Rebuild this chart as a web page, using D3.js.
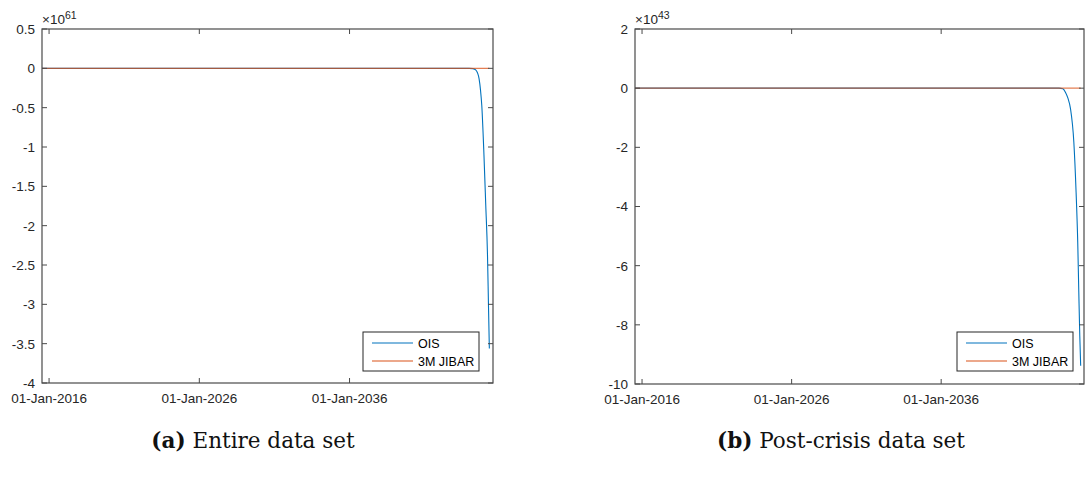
<!DOCTYPE html>
<html>
<head>
<meta charset="utf-8">
<script src="https://cdn.jsdelivr.net/npm/d3@7"></script>
<style>
  html, body { margin: 0; padding: 0; background: #fff; }
  svg { display: block; }
  .tick-label { font-family: "Liberation Sans", Arial, sans-serif; font-size: 13.5px; fill: #262626; }
  .legend-text { font-family: "Liberation Sans", Arial, sans-serif; font-size: 12.5px; fill: #000; }
  .caption { font-family: "DejaVu Serif", "Liberation Serif", serif; font-size: 21.5px; fill: #111; }
</style>
</head>
<body>
<svg id="chart" width="1086" height="479"></svg>
<script>
// Shared x-axis ticks (date axis)
const xTickDates = ["2016-01-01", "2026-01-01", "2036-01-01"];
const xTickLabels = ["01-Jan-2016", "01-Jan-2026", "01-Jan-2036"];
const xDomain = ["2015-07-13", "2045-07-20"];
const seriesNames = ["OIS", "3M JIBAR"];

// Panel (a): entire data set, values in units of 1e61
const datesA = ["2015-07-13", "2043-12-15", "2044-03-20", "2044-05-25", "2044-07-10", "2044-08-15",
                "2044-09-20", "2044-10-20", "2044-12-12", "2045-01-25", "2045-03-08", "2045-04-01", "2045-04-22"];
const oisA   = [0, 0, -0.004, -0.02, -0.06, -0.13, -0.28, -0.47, -1.10, -1.74, -2.37, -3.01, -3.56];
const jibarA = [0, 0, 0, 0, 0, 0, 0, 0, 0, 0, 0, 0, 0];
const yTicksA = [0.5, 0, -0.5, -1, -1.5, -2, -2.5, -3, -3.5, -4];
const yDomainA = [-4, 0.5];
const exponentA = "61";
const captionA = ["(a)", " Entire data set"];

// Panel (b): post-crisis data set, values in units of 1e43
const datesB = ["2015-07-13", "2043-11-15", "2044-02-20", "2044-04-22", "2044-06-20", "2044-08-25",
                "2044-11-14", "2045-01-08", "2045-02-17", "2045-03-15", "2045-04-08", "2045-04-30"];
const oisB   = [0, 0, -0.02, -0.135, -0.33, -0.70, -1.83, -3.52, -5.21, -6.90, -8.37, -9.38];
const jibarB = [0, 0, 0, 0, 0, 0, 0, 0, 0, 0, 0, 0];
const yTicksB = [2, 0, -2, -4, -6, -8, -10];
const yDomainB = [-10, 2];
const exponentB = "43";
const captionB = ["(b)", " Post-crisis data set"];

const colors = ["#0072BD", "#D95319"];
const parse = d3.timeParse("%Y-%m-%d");
const svg = d3.select("#chart");

function drawPanel(opts) {
  const { left, right, top, bottom, dates, ois, jibar, yTicks, yDomain, exponent, caption, captionX, legend } = opts;
  const g = svg.append("g");
  const x = d3.scaleTime().domain(xDomain.map(parse)).range([left, right]);
  const y = d3.scaleLinear().domain(yDomain).range([bottom, top]);
  const tickLen = 5;
  const axisColor = "#4a4a4a";

  // series lines
  const series = [ois, jibar];
  series.forEach((vals, i) => {
    const pts = dates.map((d, k) => [parse(d), vals[k]]);
    g.append("path")
      .datum(pts)
      .attr("fill", "none")
      .attr("stroke", colors[i])
      .attr("stroke-width", 1.1)
      .attr("stroke-opacity", i === 1 ? 0.75 : 1)
      .attr("d", d3.line().x(d => x(d[0])).y(d => y(d[1])).curve(d3.curveMonotoneX));
  });

  // box
  g.append("rect")
    .attr("x", left).attr("y", top)
    .attr("width", right - left).attr("height", bottom - top)
    .attr("fill", "none").attr("stroke", axisColor).attr("stroke-width", 1.2);

  // x ticks (bottom and top, pointing inward)
  const xt = xTickDates.map(parse);
  xt.forEach((d, i) => {
    const px = x(d);
    g.append("line").attr("x1", px).attr("x2", px).attr("y1", bottom).attr("y2", bottom - tickLen)
      .attr("stroke", axisColor).attr("stroke-width", 1);
    g.append("line").attr("x1", px).attr("x2", px).attr("y1", top).attr("y2", top + tickLen)
      .attr("stroke", axisColor).attr("stroke-width", 1);
    g.append("text").attr("class", "tick-label")
      .attr("x", px).attr("y", bottom + 20)
      .attr("text-anchor", "middle")
      .text(xTickLabels[i]);
  });

  // y ticks (left and right, pointing inward)
  yTicks.forEach(v => {
    const py = y(v);
    g.append("line").attr("x1", left).attr("x2", left + tickLen).attr("y1", py).attr("y2", py)
      .attr("stroke", axisColor).attr("stroke-width", 1);
    g.append("line").attr("x1", right).attr("x2", right - tickLen).attr("y1", py).attr("y2", py)
      .attr("stroke", axisColor).attr("stroke-width", 1);
    g.append("text").attr("class", "tick-label")
      .attr("x", left - 7).attr("y", py)
      .attr("dy", "0.36em")
      .attr("text-anchor", "end")
      .text(String(v));
  });

  // exponent label
  const ex = g.append("text").attr("class", "tick-label")
    .attr("x", left).attr("y", top - 5);
  ex.append("tspan").text("\u00d710");
  ex.append("tspan").attr("dy", -5).style("font-size", "10.5px").text(exponent);

  // legend
  const lg = g.append("g");
  lg.append("rect")
    .attr("x", legend.x).attr("y", legend.y)
    .attr("width", legend.w).attr("height", legend.h)
    .attr("fill", "#fff").attr("stroke", "#262626").attr("stroke-width", 1);
  seriesNames.forEach((name, i) => {
    const ly = legend.y + 11 + i * 18;
    lg.append("line")
      .attr("x1", legend.x + 9).attr("x2", legend.x + 50)
      .attr("y1", ly).attr("y2", ly)
      .attr("stroke", colors[i]).attr("stroke-width", 1.2);
    lg.append("text").attr("class", "legend-text")
      .attr("x", legend.x + 55).attr("y", ly).attr("dy", "0.36em")
      .text(name);
  });

  // caption
  const cap = svg.append("text").attr("class", "caption")
    .attr("x", captionX).attr("y", 448).attr("text-anchor", "middle");
  cap.append("tspan").attr("font-weight", "bold").text(caption[0]);
  cap.append("tspan").text(caption[1]);
}

drawPanel({
  left: 42, right: 493, top: 29, bottom: 383,
  dates: datesA, ois: oisA, jibar: jibarA,
  yTicks: yTicksA, yDomain: yDomainA, exponent: exponentA,
  caption: captionA, captionX: 253,
  legend: { x: 363, y: 332, w: 116, h: 39 }
});

drawPanel({
  left: 635, right: 1084, top: 29, bottom: 384,
  dates: datesB, ois: oisB, jibar: jibarB,
  yTicks: yTicksB, yDomain: yDomainB, exponent: exponentB,
  caption: captionB, captionX: 841,
  legend: { x: 957, y: 332, w: 116, h: 39 }
});
</script>
</body>
</html>
